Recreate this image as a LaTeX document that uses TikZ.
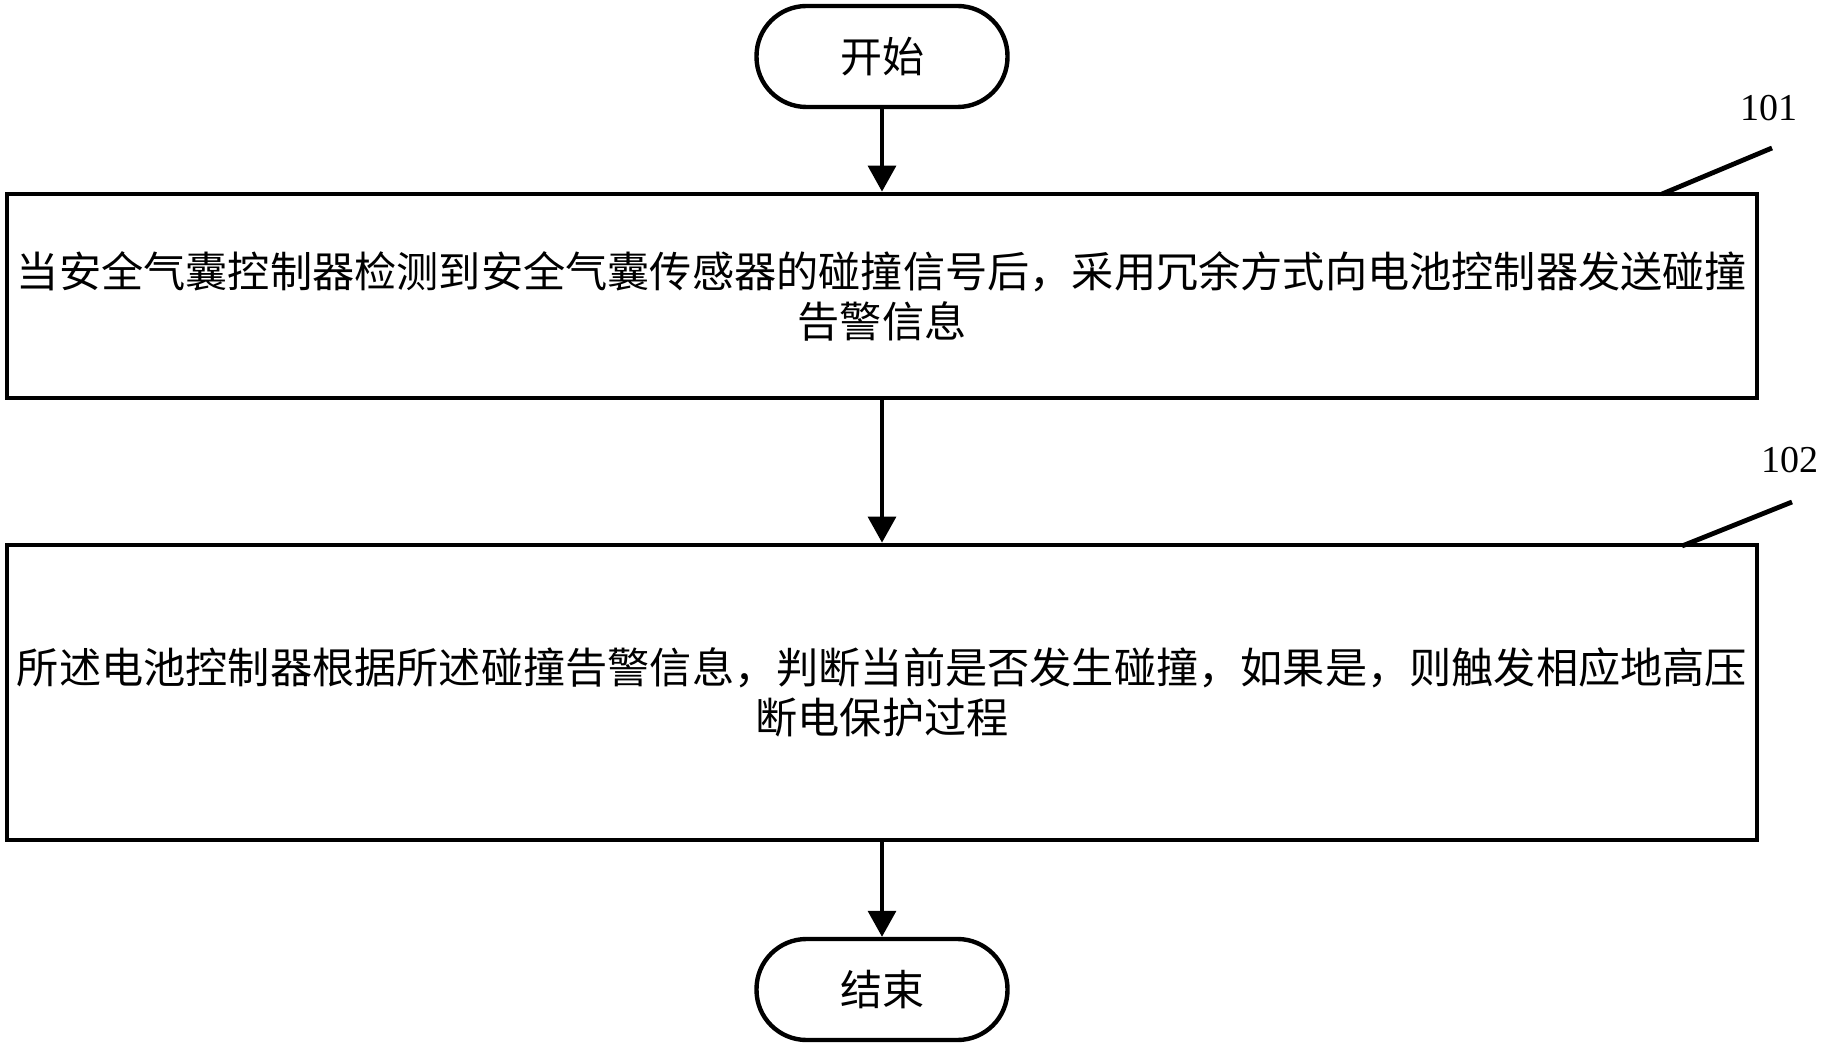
\documentclass[tikz,border=0pt]{standalone}
\usepackage{fontspec}
\setmainfont{Liberation Serif}
\newfontfamily\cjk{Noto Sans CJK SC}
\usetikzlibrary{arrows.meta,calc}
\begin{document}
\begin{tikzpicture}[x=0.5pt,y=-0.5pt,
  term/.style={draw,line width=2.2pt,rounded corners=25pt,minimum width=125.5pt,minimum height=50.5pt,inner sep=0pt,font=\cjk\fontsize{21}{25}\selectfont},
  proc/.style={draw,line width=2.4pt,minimum width=875pt,inner sep=0pt,align=center,font=\cjk\fontsize{21.1}{25}\selectfont},
  flow/.style={line width=1.7pt,-{Triangle[width=14pt,length=13pt]}},
  lead/.style={line width=2.4pt},
  num/.style={font=\fontsize{19}{21}\selectfont}]
\useasboundingbox (0,0) rectangle (1825,1047);
\node[term] (start) at (882,56.5) {开始};
\node[proc,minimum height=102pt] (box1) at (882,296) {当安全气囊控制器检测到安全气囊传感器的碰撞信号后，采用冗余方式向电池控制器发送碰撞\\告警信息};
\node[proc,minimum height=147.5pt] (box2) at (882,692.5) {所述电池控制器根据所述碰撞告警信息，判断当前是否发生碰撞，如果是，则触发相应地高压\\断电保护过程};
\node[term] (end) at (882,989.5) {结束};
\draw[flow] (start) -- (box1);
\draw[flow] (box1) -- (box2);
\draw[flow] (box2) -- (end);
\node[num] (n101) at (1769,108) {101};
\node[num] (n102) at (1790,460) {102};
\coordinate (l1a) at (1662,194);
\coordinate (l1b) at (1772,148);
\coordinate (l2a) at (1682,546);
\coordinate (l2b) at (1792,502);
\draw[lead] (l1a) -- (l1b);
\draw[lead] (l2a) -- (l2b);
\end{tikzpicture}
\end{document}
